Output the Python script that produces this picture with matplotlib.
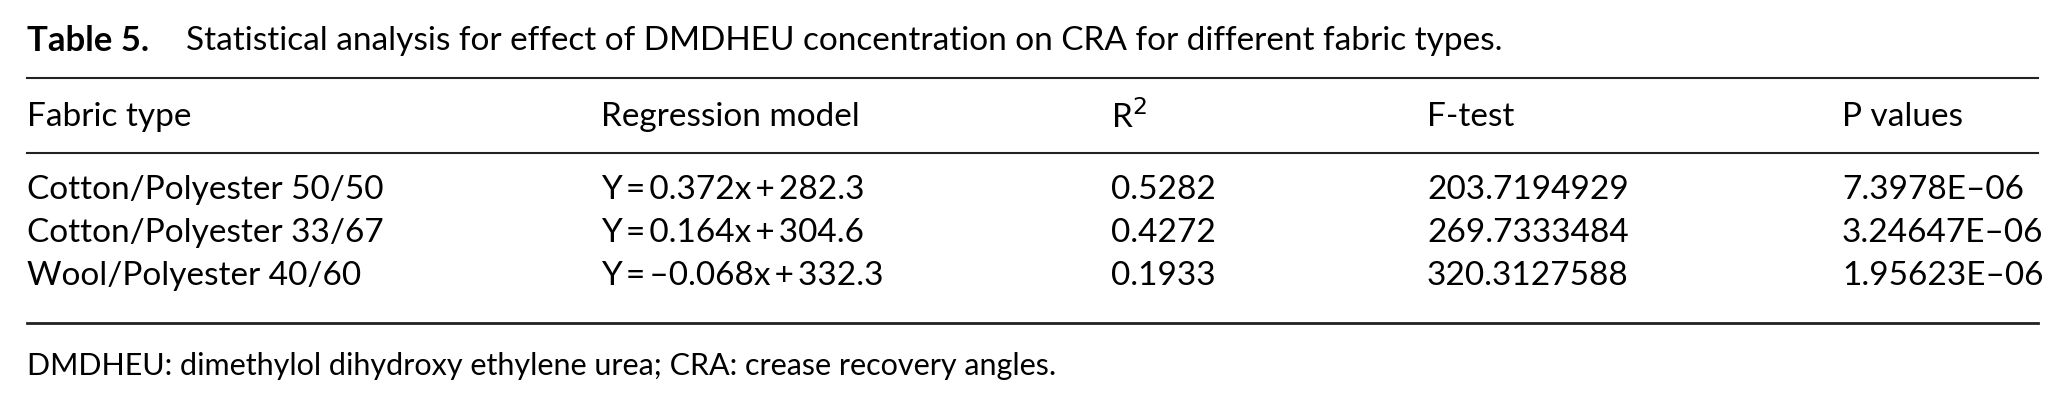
import matplotlib.pyplot as plt

fabric = ["Cotton/Polyester 50/50", "Cotton/Polyester 33/67", "Wool/Polyester 40/60"]
model = ["Y\u2009=\u20090.372x\u2009+\u2009282.3", "Y\u2009=\u20090.164x\u2009+\u2009304.6", "Y\u2009=\u2009\u20130.068x\u2009+\u2009332.3"]
r2 = ["0.5282", "0.4272", "0.1933"]
ftest = ["203.7194929", "269.7333484", "320.3127588"]
pvals = ["7.3978E\u201306", "3.24647E\u201306", "1.95623E\u201306"]
headers = ["Fabric type", "Regression model", "R$^2$", "F-test", "P values"]

plt.rcParams["font.family"] = ["Lato", "DejaVu Sans"]
fig = plt.figure(figsize=(20.65, 4.09), dpi=100)
ax = fig.add_axes([0, 0, 1, 1])
ax.set_xlim(0, 1)
ax.set_ylim(1, 0)
ax.axis("off")

fs = 24
cols = [0.013, 0.291, 0.538, 0.691, 0.892]

ax.text(0.013, 0.10, "Table 5.", fontsize=fs + 1, fontweight="bold", va="center")
ax.text(0.090, 0.10, "Statistical analysis for effect of DMDHEU concentration on CRA for different fabric types.",
        fontsize=fs, va="center")

for y, lw in [(0.19, 1.5), (0.375, 1.5), (0.79, 2)]:
    ax.plot([0.013, 0.987], [y, y], color="#222222", lw=lw)

for x, h in zip(cols, headers):
    ax.text(x, 0.285, h, fontsize=fs, va="center")

rows_y = [0.465, 0.57, 0.675]
for i, y in enumerate(rows_y):
    for x, v in zip(cols, [fabric[i], model[i], r2[i], ftest[i], pvals[i]]):
        ax.text(x, y, v, fontsize=fs, va="center")

ax.text(0.013, 0.895, "DMDHEU: dimethylol dihydroxy ethylene urea; CRA: crease recovery angles.",
        fontsize=fs - 2, va="center")

fig.savefig("out.png", dpi=100)
